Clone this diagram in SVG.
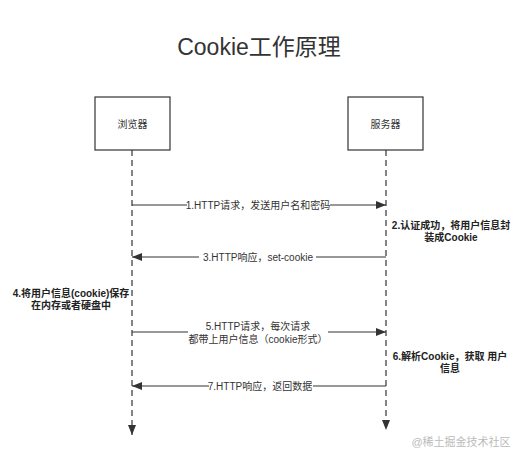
<svg xmlns="http://www.w3.org/2000/svg" width="523" height="461" viewBox="0 0 523 461">
<style>
text{font-family:"Liberation Sans","Noto Sans CJK SC",sans-serif;fill:#333}
.box{fill:#fff;stroke:#333;stroke-width:1.2}
.life{stroke:#333;stroke-width:1.2;stroke-dasharray:6,4;fill:none}
.msg{stroke:#333;stroke-width:1.2;fill:none}
.lbl{font-size:10px;text-anchor:middle}
.note{font-size:10px;font-weight:bold;text-anchor:middle;fill:#222}
.bg{fill:#fff}
</style>
<defs>
<marker id="ah" viewBox="0 0 10 8" refX="10" refY="4" markerWidth="10" markerHeight="8" markerUnits="userSpaceOnUse" orient="auto">
<path d="M0,0 L10,4 L0,8 Z" fill="#333"/>
</marker>
</defs>
<rect width="523" height="461" fill="#fff"/>
<text x="259" y="55" font-size="23" text-anchor="middle" style="fill:#333">Cookie工作原理</text>
<g id="connectors">
<line class="life" x1="132" y1="150" x2="132" y2="435" marker-end="url(#ah)"/>
<line class="life" x1="386" y1="150" x2="386" y2="430" marker-end="url(#ah)"/>
<line class="msg" x1="132" y1="205" x2="386" y2="205" marker-end="url(#ah)"/>
<rect class="bg" x="187" y="198" width="143" height="14"/>
<text class="lbl" x="258" y="209">1.HTTP请求，发送用户名和密码</text>
<line class="msg" x1="386" y1="257" x2="132" y2="257" marker-end="url(#ah)"/>
<rect class="bg" x="199" y="250" width="117" height="14"/>
<text class="lbl" x="258" y="261">3.HTTP响应，set-cookie</text>
<line class="msg" x1="132" y1="332" x2="386" y2="332" marker-end="url(#ah)"/>
<rect class="bg" x="188" y="318" width="140" height="28"/>
<text class="lbl" x="258" y="330">5.HTTP请求，每次请求</text>
<text class="lbl" x="258" y="343">都带上用户信息（cookie形式）</text>
<line class="msg" x1="386" y1="386" x2="132" y2="386" marker-end="url(#ah)"/>
<rect class="bg" x="209" y="379" width="104" height="14"/>
<text class="lbl" x="260" y="390">7.HTTP响应，返回数据</text>
</g>
<g id="browser">
<rect class="box" x="95" y="97" width="75" height="53"/>
<text class="lbl" x="132.5" y="128">浏览器</text>
</g>
<g id="server">
<rect class="box" x="348" y="97" width="75" height="53"/>
<text class="lbl" x="385.5" y="128">服务器</text>
</g>
<g id="note2">
<text class="note" x="451" y="229">2.认证成功，将用户信息封</text>
<text class="note" x="451" y="241">装成Cookie</text>
</g>
<g id="note4">
<text class="note" x="71" y="297">4.将用户信息(cookie)保存</text>
<text class="note" x="71" y="309">在内存或者硬盘中</text>
</g>
<g id="note6">
<text class="note" x="450" y="360">6.解析Cookie，获取 用户</text>
<text class="note" x="450" y="372">信息</text>
</g>
<text x="461" y="446" font-size="11" text-anchor="middle" style="fill:#bbb">@稀土掘金技术社区</text>
</svg>
